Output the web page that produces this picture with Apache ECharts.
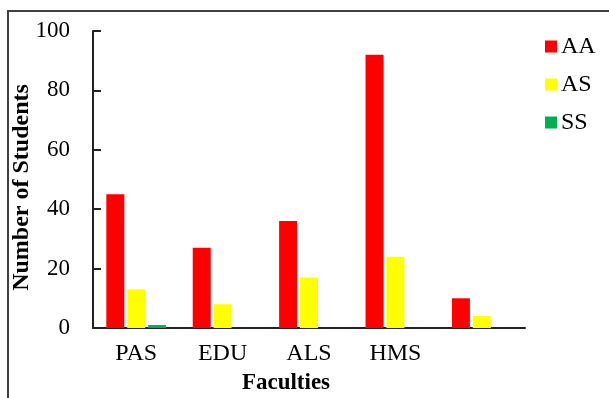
<!DOCTYPE html>
<html>
<head>
<meta charset="utf-8">
<script src="https://cdn.jsdelivr.net/npm/echarts@6/dist/echarts.min.js"></script>
<style>
  html, body { margin: 0; padding: 0; background: #fff; }
  #chart { width: 609px; height: 398px; }
</style>
</head>
<body>
<div id="chart"></div>
<script>
// Students per faculty, split by genotype group
const faculties = ['PAS', 'EDU', 'ALS', 'HMS', ''];
const seriesNames = ['AA', 'AS', 'SS'];
const valuesAA = [45, 27, 36, 92, 10];
const valuesAS = [13, 8, 17, 24, 4];
const valuesSS = [1, null, null, null, null];
const yTicks = { min: 0, max: 100, interval: 20 };

const colors = ['#ff0000', '#ffff00', '#00b050'];
const serif = '"Liberation Serif", "Times New Roman", serif';

const chart = echarts.init(document.getElementById('chart'), null, { renderer: 'canvas' });

const seriesData = [valuesAA, valuesAS, valuesSS];

chart.setOption({
  animation: false,
  backgroundColor: '#ffffff',
  graphic: [{
    type: 'rect',
    shape: { x: 8, y: 11, width: 800, height: 600 },
    style: { fill: 'none', stroke: '#404040', lineWidth: 2 },
    silent: true,
    z: 0
  }],
  grid: { left: 93, top: 31, right: 84, bottom: 70, containLabel: false, outerBoundsMode: 'none' },
  legend: {
    orient: 'vertical',
    left: 540,
    top: 29,
    itemWidth: 12,
    itemHeight: 12,
    itemGap: 13,
    icon: 'rect',
    data: seriesNames,
    textStyle: { fontFamily: serif, fontSize: 24, color: '#000', lineHeight: 25, padding: [0, 0, 0, -1] }
  },
  xAxis: {
    type: 'category',
    data: faculties,
    name: 'Faculties',
    nameLocation: 'middle',
    nameGap: 44,
    nameMoveOverlap: false,
    nameTextStyle: { fontFamily: serif, fontSize: 23, fontWeight: 'bold', color: '#000', padding: [0, 46, 0, 0] },
    axisLine: { lineStyle: { color: '#222', width: 2 } },
    axisTick: { show: false },
    axisLabel: { fontFamily: serif, fontSize: 24, color: '#000', margin: 14 }
  },
  yAxis: {
    type: 'value',
    min: yTicks.min,
    max: yTicks.max,
    interval: yTicks.interval,
    name: 'Number of Students',
    nameLocation: 'middle',
    nameGap: 59,
    nameMoveOverlap: false,
    nameTextStyle: { fontFamily: serif, fontSize: 24, fontWeight: 'bold', color: '#000', padding: [0, 16, 0, 0] },
    axisLine: { show: true, lineStyle: { color: '#222', width: 2 } },
    axisTick: { show: true, inside: true, length: 8, lineStyle: { color: '#222', width: 2 } },
    splitLine: { show: false },
    axisLabel: { fontFamily: serif, fontSize: 23, color: '#000', margin: 23 }
  },
  series: seriesNames.map((name, i) => ({
    name: name,
    type: 'bar',
    data: seriesData[i],
    barWidth: 18,
    barGap: '16%',
    itemStyle: { color: colors[i] }
  }))
});
</script>
</body>
</html>
